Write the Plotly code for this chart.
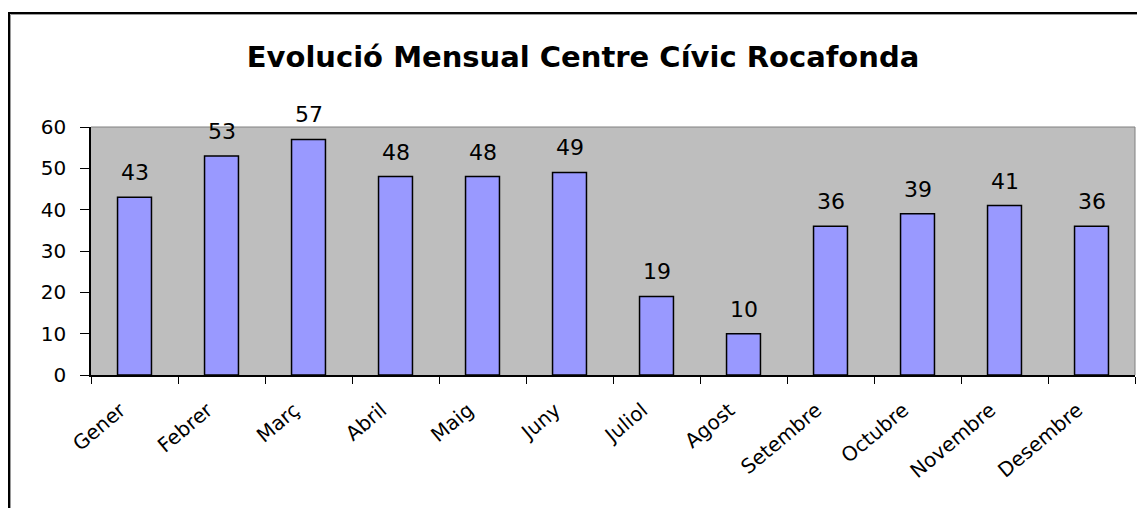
import plotly.graph_objects as go

months = ["Gener", "Febrer", "Març", "Abril", "Maig", "Juny", "Juliol",
          "Agost", "Setembre", "Octubre", "Novembre", "Desembre"]
values = [43, 53, 57, 48, 48, 49, 19, 10, 36, 39, 41, 36]
y_ticks = [0, 10, 20, 30, 40, 50, 60]

# page body has an 8px margin; figure is laid out in viewport coordinates
OFF = 8
VW, VH = 1145, 508
W, H = VW - OFF, VH - OFF
PL, PR, PT, PB = 91, 1135, 127, 375      # plot area in viewport pixels
L, R, T, B = PL - OFF, W - (PR - OFF), PT - OFF, H - (PB - OFF)
pw, ph = PR - PL, PB - PT

def px(x):
    return (x - PL) / pw

def py(y):
    return 1 - (y - PT) / ph

font = "DejaVu Sans, Verdana, sans-serif"

fig = go.Figure(go.Bar(
    x=months, y=values,
    marker=dict(color="#9999ff", line=dict(color="#000000", width=1.5)),
    width=0.39, hoverinfo="x+y",
))

for m, v in zip(months, values):
    fig.add_annotation(x=m, y=v, text=str(v), showarrow=False,
                       yanchor="bottom", yshift=10,
                       font=dict(family=font, size=22, color="#000000"))

fig.update_layout(
    width=W, height=H,
    margin=dict(l=L, r=R, t=T, b=B),
    paper_bgcolor="white", plot_bgcolor="#bebebe",
    showlegend=False,
    title=dict(text="<b>Evolució Mensual Centre Cívic Rocafonda</b>",
               xref="paper", x=px(583), xanchor="center",
               yref="container", y=1 - (57 - OFF) / H, yanchor="middle",
               font=dict(family=font, size=29, color="#000000")),
    xaxis=dict(type="category", showgrid=False, showline=True,
               linecolor="#000000", linewidth=1.5,
               ticks="outside", ticklen=7, tickcolor="#000000",
               tickson="boundaries", tickangle=-40,
               ticklabelstandoff=14, ticklabelshift=-14,
               tickfont=dict(family=font, size=20, color="#000000")),
    yaxis=dict(range=[0, 60], tickvals=y_ticks, showgrid=False,
               showline=True, linecolor="#000000", linewidth=1.5,
               ticks="outside", ticklen=9, tickcolor="#000000",
               ticklabelstandoff=10,
               tickfont=dict(family=font, size=20, color="#000000"),
               zeroline=False),
)

# plot area top/right border (grey)
fig.add_shape(type="line", xref="paper", yref="paper", x0=0, x1=1, y0=1, y1=1,
              line=dict(color="#808080", width=1))
fig.add_shape(type="line", xref="paper", yref="paper", x0=1, x1=1, y0=0, y1=1,
              line=dict(color="#808080", width=1))

# outer frame (black with grey inner edge)
fig.add_shape(type="line", xref="paper", yref="paper",
              x0=px(9), x1=px(1160), y0=py(13), y1=py(13),
              line=dict(color="#000000", width=2))
fig.add_shape(type="line", xref="paper", yref="paper",
              x0=px(9), x1=px(9), y0=py(12), y1=py(530),
              line=dict(color="#000000", width=2))
fig.add_shape(type="line", xref="paper", yref="paper",
              x0=px(10.5), x1=px(1160), y0=py(14.5), y1=py(14.5),
              line=dict(color="#9a9a9a", width=1))
fig.add_shape(type="line", xref="paper", yref="paper",
              x0=px(10.5), x1=px(10.5), y0=py(14.5), y1=py(530),
              line=dict(color="#9a9a9a", width=1))

fig.write_html("out.html")
